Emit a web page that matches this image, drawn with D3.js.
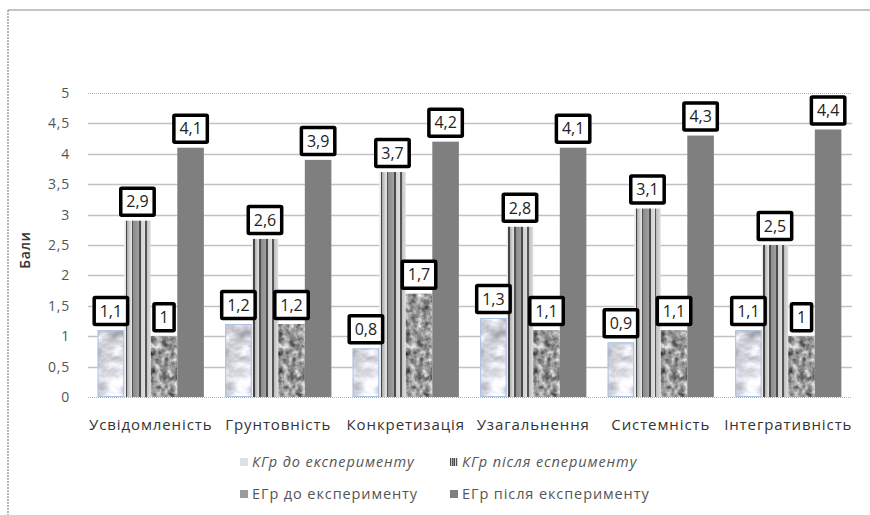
<!DOCTYPE html>
<html>
<head>
<meta charset="utf-8">
<script src="https://cdn.jsdelivr.net/npm/d3@7"></script>
<style>
  body { margin: 0; background: #fff; }
  svg { display: block; font-family: "Open Sans", sans-serif; }
</style>
</head>
<body>
<svg id="chart"></svg>
<script>
// data
const categories = ["Усвідомленість", "Грунтовність", "Конкретизація", "Узагальнення", "Системність", "Інтегративність"];
const kgrBefore = [1.1, 1.2, 0.8, 1.3, 0.9, 1.1];
const kgrAfter  = [2.9, 2.6, 3.7, 2.8, 3.1, 2.5];
const egrBefore = [1, 1.2, 1.7, 1.1, 1.1, 1];
const egrAfter  = [4.1, 3.9, 4.2, 4.1, 4.3, 4.4];
const seriesNames = ["КГр до експерименту", "КГр після есперименту", "ЕГр до експерименту", "ЕГр після експерименту"];
const yTicks = [0, 0.5, 1, 1.5, 2, 2.5, 3, 3.5, 4, 4.5, 5];

const width = 870, height = 515;
const margin = {top: 93, right: 18, bottom: 118, left: 87};

const svg = d3.select("#chart")
  .attr("width", width)
  .attr("height", height);

const fmt = v => String(v).replace(".", ",");

// ---- fills (textures / stripes) ----
const defs = svg.append("defs");

// noise texture clipped to the shape: gray = a*noise + b
function texture(id, freq, octaves, seed, a, b, blue) {
  const f = defs.append("filter").attr("id", id)
    .attr("color-interpolation-filters", "sRGB")
    .attr("x", 0).attr("y", 0).attr("width", 1).attr("height", 1);
  f.append("feTurbulence").attr("type", "fractalNoise")
    .attr("baseFrequency", freq).attr("numOctaves", octaves).attr("seed", seed).attr("result", "n");
  f.append("feColorMatrix").attr("in", "n").attr("type", "matrix")
    .attr("values", `${a} 0 0 0 ${b}  ${a} 0 0 0 ${b}  ${a} 0 0 0 ${b + blue}  0 0 0 0 1`)
    .attr("result", "t");
  f.append("feComposite").attr("in", "t").attr("in2", "SourceGraphic").attr("operator", "in");
}
texture("marble", "0.05 0.08", 4, 11, 0.65, 0.52, 0.03);
texture("granite", "0.16", 3, 3, 1.0, 0.1, 0);

// vertical stripes
const stripes = defs.append("linearGradient").attr("id", "stripes")
  .attr("x1", 0).attr("x2", 1).attr("y1", 0).attr("y2", 0);
[[0, "#ececec"], [0.05, "#ececec"], [0.05, "#444"], [0.11, "#444"], [0.11, "#aaa"], [0.22, "#d4d4d4"],
 [0.28, "#e4e4e4"], [0.28, "#505050"], [0.35, "#505050"], [0.35, "#8c8c8c"], [0.55, "#a0a0a0"],
 [0.55, "#4a4a4a"], [0.62, "#4a4a4a"], [0.62, "#d0d0d0"], [0.77, "#dedede"], [0.77, "#555"],
 [0.84, "#555"], [0.84, "#bdbdbd"], [1, "#e0e0e0"]]
  .forEach(([o, c]) => stripes.append("stop").attr("offset", o).attr("stop-color", c));

const styles = [
  {fill: "#ddd", filter: "url(#marble)", stroke: "#a9c1e6", swatch: "#dfe1e7"},
  {fill: "url(#stripes)", filter: null, stroke: "none", swatch: "url(#stripes)"},
  {fill: "#999", filter: "url(#granite)", stroke: "none", swatch: "#9c9c9c"},
  {fill: "#7f7f7f", filter: null, stroke: "none", swatch: "#7f7f7f"}
];

// ---- frame ----
svg.append("line").attr("x1", 8).attr("x2", width).attr("y1", 10).attr("y2", 10)
  .attr("stroke", "#8a8a8a").attr("stroke-width", 1.2);
svg.append("line").attr("x1", 8).attr("x2", 8).attr("y1", 10).attr("y2", height)
  .attr("stroke", "#8a8a8a").attr("stroke-width", 1.2).attr("stroke-dasharray", "2,1");

// ---- scales ----
const x0 = d3.scaleBand().domain(categories)
  .range([margin.left, width - margin.right]).paddingInner(0).paddingOuter(0);
const x1 = d3.scaleBand().domain(d3.range(4))
  .range([0, x0.bandwidth()]).paddingInner(0).paddingOuter(0.4);
const y = d3.scaleLinear().domain([0, 5]).range([height - margin.bottom, margin.top]);

// ---- grid ----
svg.append("g").selectAll("line").data(yTicks).join("line")
  .attr("x1", 88).attr("x2", width - margin.right)
  .attr("y1", d => Math.round(y(d)) + 0.5).attr("y2", d => Math.round(y(d)) + 0.5)
  .attr("stroke", d => (d === 0 || d === 5) ? "#b0b0b0" : "#c2c2c2")
  .attr("stroke-width", d => (d === 0 || d === 5) ? 1 : 1.5)
  .attr("stroke-dasharray", d => (d === 0 || d === 5) ? "1,1" : null);

// y tick labels
svg.append("g").selectAll("text").data(yTicks).join("text")
  .attr("x", 70).attr("y", d => y(d)).attr("dy", "0.35em")
  .attr("text-anchor", "end").attr("font-size", 14).attr("fill", "#555")
  .attr("letter-spacing", 0.8)
  .text(fmt);

// y axis title
svg.append("text")
  .attr("transform", "translate(25,250) rotate(-90)")
  .attr("text-anchor", "middle").attr("dy", "0.35em")
  .attr("font-size", 14).attr("font-weight", 600).attr("fill", "#333")
  .attr("letter-spacing", 0.6)
  .text("Бали");

// ---- bars ----
const table = categories.map((c, i) => ({
  cat: c,
  values: [kgrBefore[i], kgrAfter[i], egrBefore[i], egrAfter[i]]
}));

const groups = svg.append("g").selectAll("g").data(table).join("g")
  .attr("transform", d => `translate(${x0(d.cat)},0)`);

const cells = d => d.values.map((v, k) => ({v, k}));

groups.selectAll("rect.bar").data(cells).join("rect")
  .attr("class", "bar")
  .attr("x", d => x1(d.k))
  .attr("y", d => y(d.v))
  .attr("width", x1.bandwidth())
  .attr("height", d => y(0) - y(d.v))
  .attr("fill", d => styles[d.k].fill)
  .attr("filter", d => styles[d.k].filter);

// thin outline on the light series
groups.selectAll("rect.edge").data(d => cells(d).filter(c => styles[c.k].stroke !== "none")).join("rect")
  .attr("class", "edge")
  .attr("x", d => x1(d.k) + 0.5)
  .attr("y", d => y(d.v) + 0.5)
  .attr("width", x1.bandwidth() - 1)
  .attr("height", d => y(0) - y(d.v) - 1)
  .attr("fill", "none")
  .attr("stroke", d => styles[d.k].stroke);

// value labels in boxed callouts
const labels = groups.selectAll("g.lbl").data(cells).join("g")
  .attr("class", "lbl")
  .attr("transform", d => `translate(${x1(d.k) + x1.bandwidth() / 2},${y(d.v) - 19})`);

labels.append("text")
  .attr("text-anchor", "middle").attr("dy", "0.36em")
  .attr("font-size", 16).attr("fill", "#222")
  .text(d => fmt(d.v));

labels.each(function() {
  const g = d3.select(this);
  const w = g.select("text").node().getComputedTextLength() + 11;
  g.insert("rect", "text")
    .attr("x", -w / 2).attr("y", -13.5)
    .attr("width", w).attr("height", 27)
    .attr("fill", "#fff").attr("stroke", "#000").attr("stroke-width", 3.5)
    .attr("rx", 1);
});

// category labels
svg.append("g").selectAll("text").data(categories).join("text")
  .attr("x", d => x0(d) + x0.bandwidth() / 2)
  .attr("y", 425).attr("dy", "0.35em")
  .attr("text-anchor", "middle").attr("font-size", 15).attr("fill", "#333")
  .attr("letter-spacing", 0.9)
  .text(d => d);

// ---- legend ----
const legendPos = [[240, 462, true], [450, 462, true], [240, 494, false], [450, 494, false]];
const legend = svg.append("g").selectAll("g").data(seriesNames).join("g")
  .attr("transform", (d, i) => `translate(${legendPos[i][0]},${legendPos[i][1]})`);
legend.append("rect")
  .attr("x", 0).attr("y", -4).attr("width", 8).attr("height", 8)
  .attr("fill", (d, i) => styles[i].swatch);
legend.append("text")
  .attr("x", 12).attr("dy", "0.35em")
  .attr("font-size", 14.5).attr("fill", "#555")
  .attr("letter-spacing", 0.9)
  .attr("font-style", (d, i) => legendPos[i][2] ? "italic" : null)
  .text(d => d);
</script>
</body>
</html>
